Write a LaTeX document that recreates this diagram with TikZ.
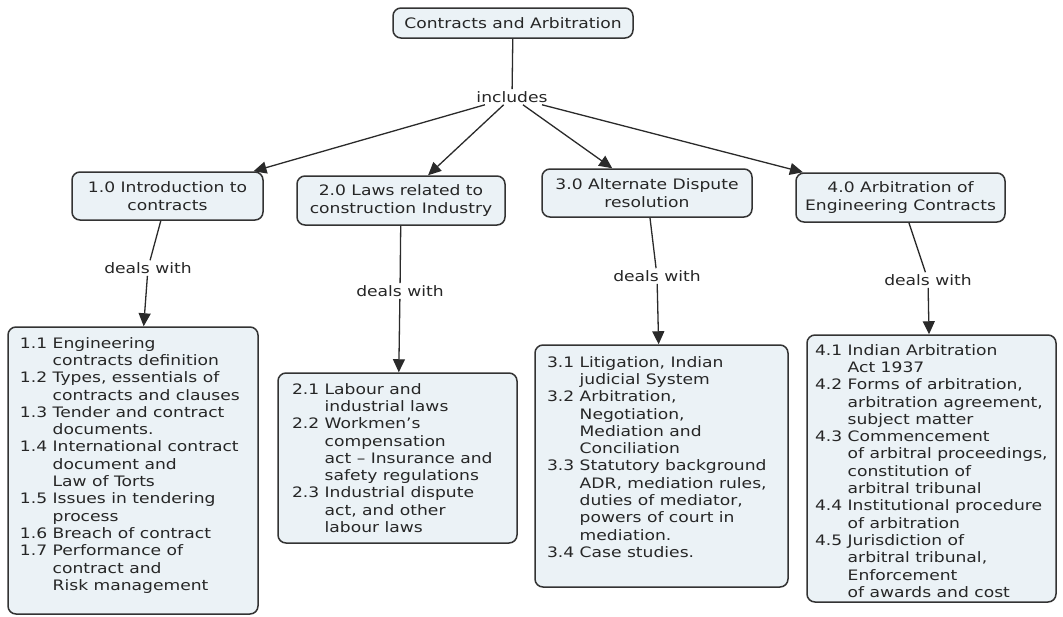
\documentclass[tikz,border=0pt]{standalone}
\usepackage{fontspec}
\setmainfont{DejaVu Sans}[FakeStretch=1.19]
\usetikzlibrary{arrows.meta}
\definecolor{boxfill}{HTML}{EBF2F6}
\definecolor{boxline}{HTML}{333333}
\definecolor{txt}{HTML}{262626}
\definecolor{linec}{HTML}{2A2A2A}
\newcommand\mapitems[5]{\begin{minipage}[c][#2][t]{#1}\vspace*{#3}\hspace*{#4}\begin{tabular}[t]{@{}l@{\ }l@{}}#5\end{tabular}\end{minipage}}
\tikzset{
  mapfont/.style={font=\fontsize{14.4}{17.3}\selectfont},
  concept/.style={draw=boxline, fill=boxfill, line width=1.5pt, rounded corners=8pt,
    text=txt, align=center, inner sep=0pt, mapfont},
  itembox/.style={concept, align=left},
  lab/.style={text=txt, inner sep=2pt, mapfont},
  link/.style={draw=linec, line width=1.3pt},
  arr/.style={link, -{Triangle[length=13pt,width=12pt]}}
}
\begin{document}
\begin{tikzpicture}[x=1pt,y=-1pt]
\useasboundingbox (0,0) rectangle (1063,616);
\node[concept, minimum width=240pt, minimum height=30pt] (top) at (513,23) {Contracts and Arbitration};
\node[lab] (inc) at (512,97) {includes};
\node[concept, minimum width=191pt, minimum height=48pt] (n1) at (167.5,196) {1.0 Introduction to\\contracts};
\node[concept, minimum width=208pt, minimum height=49pt] (n2) at (401,200.5) {2.0 Laws related to\\construction Industry};
\node[concept, minimum width=210pt, minimum height=48pt] (n3) at (647,193) {3.0 Alternate Dispute\\resolution};
\node[concept, minimum width=209pt, minimum height=49pt] (n4) at (900.5,197.5) {4.0 Arbitration of\\Engineering Contracts};
\node[lab] (d1) at (148,268) {deals with};
\node[lab] (d2) at (400,291) {deals with};
\node[lab] (d3) at (657,276) {deals with};
\node[lab] (d4) at (928,280) {deals with};
\node[itembox] (b1) at (133,470.5) {\mapitems{250pt}{287pt}{9pt}{12pt}{%
1.1 & Engineering\\ & contracts definition\\
1.2 & Types, essentials of\\ & contracts and clauses\\
1.3 & Tender and contract\\ & documents.\\
1.4 & International contract\\ & document and\\ & Law of Torts\\
1.5 & Issues in tendering\\ & process\\
1.6 & Breach of contract\\
1.7 & Performance of\\ & contract and\\ & Risk management}};
\node[itembox] (b2) at (397.5,458) {\mapitems{239pt}{170pt}{9pt}{14pt}{%
2.1 & Labour and\\ & industrial laws\\
2.2 & Workmen’s\\ & compensation\\ & act – Insurance and\\ & safety regulations\\
2.3 & Industrial dispute\\ & act, and other\\ & labour laws}};
\node[itembox] (b3) at (661.5,466) {\mapitems{253pt}{242pt}{10pt}{12pt}{%
3.1 & Litigation, Indian\\ & judicial System\\
3.2 & Arbitration,\\ & Negotiation,\\ & Mediation and\\ & Conciliation\\
3.3 & Statutory background\\ & ADR, mediation rules,\\ & duties of mediator,\\ & powers of court in\\ & mediation.\\
3.4 & Case studies.}};
\node[itembox] (b4) at (931.5,468.5) {\mapitems{249pt}{267pt}{8pt}{8pt}{%
4.1 & Indian Arbitration\\ & Act 1937\\
4.2 & Forms of arbitration,\\ & arbitration agreement,\\ & subject matter\\
4.3 & Commencement\\ & of arbitral proceedings,\\ & constitution of\\ & arbitral tribunal\\
4.4 & Institutional procedure\\ & of arbitration\\
4.5 & Jurisdiction of\\ & arbitral tribunal,\\ & Enforcement\\ & of awards and cost}};
\draw[link] (top) -- (inc);
\draw[arr] (inc) -- (n1);
\draw[arr] (inc) -- (n2);
\draw[arr] (inc) -- (n3);
\draw[arr] (inc) -- (n4);
\draw[link] (n1) -- (d1);
\draw[link] (n2) -- (d2);
\draw[link] (n3) -- (d3);
\draw[link] (n4) -- (d4);
\draw[arr] (d1) -- (b1);
\draw[arr] (d2) -- (b2);
\draw[arr] (d3) -- (b3);
\draw[arr] (d4) -- (b4);
\end{tikzpicture}
\end{document}
